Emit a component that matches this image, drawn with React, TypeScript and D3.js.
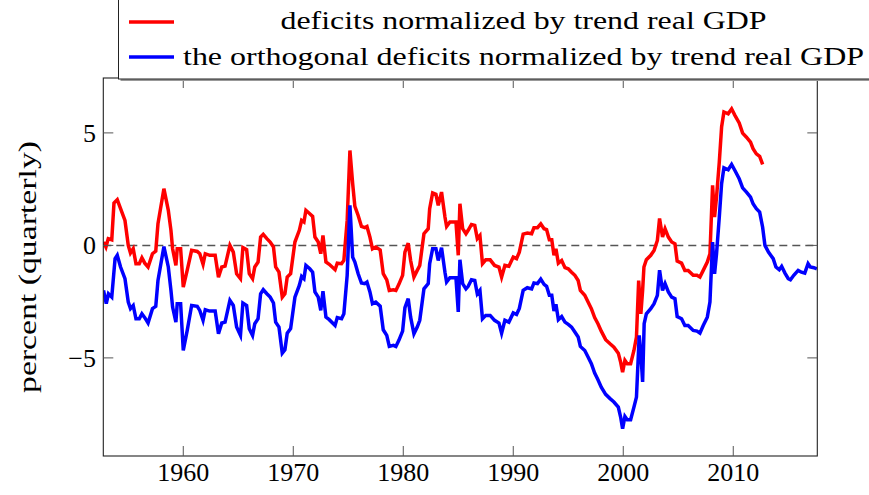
import { useEffect, useRef } from "react";
import * as d3 from "d3";

// [year, percent]
const deficits: [number, number][] = [
  [1952.75, 0.15], [1952.97, -0.07], [1953.18, 0.3], [1953.5, 0.25], [1953.7, 1.88],
  [1954.0, 2.03], [1954.3, 1.63], [1954.7, 1.11], [1955.0, 0.0], [1955.2, -0.34],
  [1955.45, -0.15], [1955.7, -0.81], [1956.0, -0.81], [1956.24, -0.55], [1956.5, -0.79],
  [1956.8, -0.96], [1957.2, -0.37], [1957.5, -0.25], [1957.7, 0.96], [1958.24, 2.52],
  [1958.64, 1.56], [1958.88, 0.67], [1959.03, -0.15], [1959.33, -0.89], [1959.45, -0.15],
  [1959.76, -0.15], [1960.0, -1.85], [1960.36, -1.1], [1960.76, -0.22], [1961.27, -0.27],
  [1961.5, -0.37], [1961.8, -0.84], [1962.0, -0.37], [1962.4, -0.44], [1962.9, -0.44],
  [1963.2, -1.41], [1963.5, -0.96], [1963.8, -0.92], [1964.24, 0.0], [1964.55, -0.3],
  [1964.85, -1.26], [1965.2, -1.48], [1965.42, -0.1], [1965.76, -0.19], [1966.0, -1.26],
  [1966.3, -1.48], [1966.5, -0.96], [1966.8, -0.74], [1967.03, 0.37], [1967.27, 0.49],
  [1967.6, 0.3], [1967.9, 0.15], [1968.2, -0.07], [1968.4, -0.96], [1968.7, -1.19],
  [1969.0, -2.3], [1969.24, -2.15], [1969.45, -1.41], [1969.76, -1.26], [1970.15, 0.15],
  [1970.55, 0.67], [1970.76, 1.11], [1970.97, 1.04], [1971.15, 1.56], [1971.5, 1.41],
  [1971.76, 1.29], [1971.97, 0.37], [1972.27, 0.15], [1972.5, -0.37], [1972.7, 0.44],
  [1972.97, -0.74], [1973.27, -0.84], [1973.8, -1.08], [1974.0, -0.79], [1974.39, -0.81],
  [1974.6, -0.67], [1974.9, 1.11], [1975.15, 4.22], [1975.4, 2.74], [1975.6, 1.73],
  [1975.9, 1.33], [1976.2, 0.84], [1976.5, 0.79], [1976.7, 0.84], [1976.97, 0.37],
  [1977.2, -0.15], [1977.5, -0.07], [1977.9, -0.2], [1978.18, -1.26], [1978.5, -1.53],
  [1978.73, -2.0], [1979.1, -1.97], [1979.33, -2.0], [1979.6, -1.73], [1979.94, -1.33],
  [1980.15, -0.3], [1980.45, 0.1], [1980.67, -0.67], [1980.97, -1.41], [1981.27, -1.11],
  [1981.5, -0.89], [1981.88, 0.52], [1982.27, 0.74], [1982.4, 1.63], [1982.67, 2.33],
  [1982.97, 2.27], [1983.18, 1.78], [1983.48, 2.37], [1983.79, 1.26], [1983.94, 0.84],
  [1984.24, 1.04], [1984.79, 1.04], [1985.0, -0.44], [1985.15, 1.85], [1985.4, 0.74],
  [1985.7, 0.52], [1985.9, 0.67], [1986.2, 0.93], [1986.5, 0.89], [1986.73, 0.3],
  [1986.97, 0.44], [1987.2, -0.81], [1987.5, -0.64], [1987.9, -0.64], [1988.3, -0.89],
  [1988.7, -0.96], [1988.94, -1.41], [1989.24, -0.89], [1989.6, -0.93], [1990.0, -0.52],
  [1990.3, -0.59], [1990.55, -0.3], [1990.9, 0.5], [1991.28, 0.55], [1991.67, 0.52],
  [1991.88, 0.79], [1992.2, 0.79], [1992.5, 0.96], [1992.8, 0.74], [1993.03, 0.7],
  [1993.28, 0.25], [1993.5, 0.25], [1993.7, -0.44], [1993.88, -0.15], [1994.1, -0.79],
  [1994.4, -0.67], [1994.7, -0.99], [1995.0, -1.04], [1995.3, -1.19], [1995.6, -1.33],
  [1995.9, -1.56], [1996.1, -2.0], [1996.5, -2.22], [1996.8, -2.52], [1997.1, -2.81],
  [1997.4, -3.21], [1997.7, -3.48], [1998.0, -3.81], [1998.4, -4.19], [1998.8, -4.37],
  [1999.15, -4.52], [1999.55, -4.79], [1999.76, -5.19], [1999.94, -5.63], [2000.15, -5.11],
  [2000.36, -5.26], [2000.67, -5.26], [2000.97, -4.67], [2001.2, -4.07], [2001.4, -1.56],
  [2001.6, -3.04], [2001.76, -2.0], [2001.88, -0.96], [2002.1, -0.64], [2002.5, -0.44],
  [2002.8, -0.22], [2003.1, 0.22], [2003.3, 1.2], [2003.57, 0.37], [2003.8, 0.74],
  [2004.1, 0.37], [2004.4, 0.15], [2004.7, 0.07], [2004.9, -0.7], [2005.3, -0.79],
  [2005.6, -1.11], [2005.9, -1.11], [2006.36, -1.33], [2006.7, -1.33], [2006.97, -1.41],
  [2007.27, -1.11], [2007.64, -0.74], [2007.88, -0.37], [2008.12, 2.67], [2008.3, 1.26],
  [2008.48, 2.15], [2008.73, 3.7], [2008.94, 5.26], [2009.15, 5.93], [2009.54, 5.85],
  [2009.85, 6.07], [2010.15, 5.78], [2010.54, 5.44], [2010.85, 4.99], [2011.2, 4.81],
  [2011.57, 4.59], [2011.8, 4.3], [2012.1, 4.07], [2012.4, 3.96], [2012.67, 3.6],
];

const orthogonal: [number, number][] = [
  [1952.75, -2.0], [1953.0, -2.59], [1953.2, -2.15], [1953.5, -2.3], [1953.8, -0.59],
  [1954.0, -0.44], [1954.3, -0.96], [1954.7, -1.48], [1955.0, -2.52], [1955.2, -2.81],
  [1955.45, -2.67], [1955.7, -3.26], [1956.0, -3.26], [1956.24, -3.04], [1956.5, -3.21],
  [1956.8, -3.45], [1957.2, -2.81], [1957.5, -2.71], [1957.7, -1.56], [1958.24, -0.05],
  [1958.64, -0.96], [1958.88, -2.0], [1959.03, -2.74], [1959.33, -3.41], [1959.45, -2.59],
  [1959.76, -2.59], [1960.0, -4.67], [1960.36, -3.78], [1960.76, -2.67], [1961.27, -2.71],
  [1961.5, -2.89], [1961.8, -3.33], [1962.0, -2.86], [1962.4, -2.92], [1962.9, -2.92],
  [1963.2, -3.93], [1963.5, -3.45], [1963.8, -3.41], [1964.24, -2.44], [1964.55, -2.67],
  [1964.85, -3.63], [1965.2, -4.0], [1965.42, -2.56], [1965.76, -2.67], [1966.0, -3.7],
  [1966.3, -4.0], [1966.5, -3.48], [1966.8, -3.26], [1967.03, -2.15], [1967.27, -1.97],
  [1967.6, -2.15], [1967.9, -2.3], [1968.2, -2.56], [1968.4, -3.41], [1968.7, -3.63],
  [1969.0, -4.79], [1969.24, -4.64], [1969.45, -3.9], [1969.76, -3.7], [1970.15, -2.3],
  [1970.55, -1.78], [1970.76, -1.38], [1970.97, -1.48], [1971.15, -0.89], [1971.5, -1.04],
  [1971.76, -1.19], [1971.97, -2.07], [1972.27, -2.3], [1972.5, -2.89], [1972.7, -2.03],
  [1972.97, -3.19], [1973.27, -3.3], [1973.8, -3.56], [1974.0, -3.21], [1974.39, -3.26],
  [1974.6, -3.04], [1974.9, -1.33], [1975.15, 1.78], [1975.4, -0.52], [1975.6, -0.74],
  [1975.9, -1.26], [1976.2, -1.67], [1976.5, -1.7], [1976.7, -1.63], [1976.97, -2.07],
  [1977.2, -2.59], [1977.5, -2.52], [1977.9, -2.7], [1978.18, -3.75], [1978.5, -4.0],
  [1978.73, -4.49], [1979.1, -4.44], [1979.33, -4.49], [1979.6, -4.22], [1979.94, -3.81],
  [1980.15, -2.77], [1980.45, -2.37], [1980.67, -3.19], [1980.97, -3.93], [1981.27, -3.63],
  [1981.5, -3.33], [1981.88, -1.93], [1982.27, -1.7], [1982.4, -0.81], [1982.67, -0.15],
  [1982.97, -0.15], [1983.18, -0.67], [1983.48, -0.1], [1983.79, -1.19], [1983.94, -1.63],
  [1984.24, -1.44], [1984.79, -1.44], [1985.0, -2.96], [1985.15, -0.64], [1985.4, -1.7],
  [1985.7, -1.93], [1985.9, -1.82], [1986.2, -1.53], [1986.5, -1.56], [1986.73, -2.15],
  [1986.97, -2.0], [1987.2, -3.26], [1987.5, -3.11], [1987.9, -3.11], [1988.3, -3.33],
  [1988.7, -3.45], [1988.94, -3.9], [1989.24, -3.33], [1989.6, -3.41], [1990.0, -3.0],
  [1990.3, -3.07], [1990.55, -2.8], [1990.9, -2.0], [1991.28, -1.88], [1991.67, -1.93],
  [1991.88, -1.67], [1992.2, -1.7], [1992.5, -1.5], [1992.8, -1.73], [1993.03, -1.82],
  [1993.28, -2.22], [1993.5, -2.22], [1993.7, -2.92], [1993.88, -2.62], [1994.1, -3.3],
  [1994.4, -3.16], [1994.7, -3.41], [1995.0, -3.51], [1995.3, -3.63], [1995.6, -3.85],
  [1995.9, -4.07], [1996.1, -4.49], [1996.5, -4.67], [1996.8, -4.96], [1997.1, -5.26],
  [1997.4, -5.67], [1997.7, -5.97], [1998.0, -6.3], [1998.4, -6.62], [1998.8, -6.81],
  [1999.15, -6.96], [1999.55, -7.19], [1999.76, -7.63], [1999.94, -8.15], [2000.15, -7.6],
  [2000.36, -7.75], [2000.67, -7.75], [2000.97, -7.19], [2001.2, -6.74], [2001.45, -4.0],
  [2001.6, -4.81], [2001.76, -6.07], [2001.9, -3.48], [2002.1, -3.04], [2002.5, -2.81],
  [2002.8, -2.59], [2003.1, -2.22], [2003.3, -1.1], [2003.57, -2.0], [2003.8, -1.7],
  [2004.1, -2.07], [2004.4, -2.3], [2004.7, -2.37], [2004.9, -3.16], [2005.3, -3.26],
  [2005.6, -3.56], [2005.9, -3.56], [2006.36, -3.78], [2006.7, -3.81], [2006.97, -3.9],
  [2007.27, -3.56], [2007.64, -3.19], [2007.88, -2.52], [2008.12, 0.15], [2008.3, -1.26],
  [2008.48, -0.37], [2008.73, 1.26], [2008.94, 2.74], [2009.15, 3.45], [2009.54, 3.36],
  [2009.85, 3.6], [2010.15, 3.33], [2010.54, 2.96], [2010.85, 2.56], [2011.2, 2.37],
  [2011.57, 2.15], [2011.8, 1.85], [2012.1, 1.63], [2012.4, 1.48], [2012.67, 0.81],
  [2012.88, 0.0], [2013.2, -0.3], [2013.63, -0.59], [2013.88, -0.96], [2014.18, -1.08],
  [2014.4, -0.93], [2014.7, -1.23], [2015.0, -1.48], [2015.2, -1.53], [2015.5, -1.33],
  [2015.9, -1.11], [2016.2, -1.19], [2016.5, -1.23], [2016.8, -0.81], [2017.0, -0.96],
  [2017.33, -0.99], [2017.6, -1.04],
];

const xTicks = [1960, 1970, 1980, 1990, 2000, 2010];
const yTicks = [-5, 0, 5];
const legendLabels = [
  "deficits normalized by trend real GDP",
  "the orthogonal deficits normalized by trend real GDP",
];
const yLabel = "percent (quarterly)";

export default function App() {
  const svgRef = useRef<SVGSVGElement | null>(null);

  useEffect(() => {
    const width = 869;
    const height = 495;
    const left = 103.3;
    const right = 817.3;
    const top = 78;
    const bottom = 456;

    const svg = d3.select(svgRef.current);
    svg.selectAll("*").remove();
    svg
      .attr("width", width)
      .attr("height", height)
      .style("font-family", '"Liberation Serif", "Times New Roman", "DejaVu Serif", serif');

    const x = d3.scaleLinear().domain([1952.73, 2017.64]).range([left, right]);
    const y = d3.scaleLinear().domain([-9.36, 7.44]).range([bottom, top]);

    svg
      .append("defs")
      .append("clipPath")
      .attr("id", "plot-clip")
      .append("rect")
      .attr("x", left)
      .attr("y", top)
      .attr("width", right - left)
      .attr("height", bottom - top);

    // zero line
    svg
      .append("line")
      .attr("x1", left)
      .attr("x2", right)
      .attr("y1", y(0))
      .attr("y2", y(0))
      .attr("stroke", "#555")
      .attr("stroke-width", 1.5)
      .attr("stroke-dasharray", "8,5");

    const line = d3
      .line<[number, number]>()
      .x((d) => x(d[0]))
      .y((d) => y(d[1]));

    const series = [
      { data: deficits, color: "#ff0000" },
      { data: orthogonal, color: "#0000ff" },
    ];

    series.forEach((s) => {
      svg
        .append("path")
        .datum(s.data)
        .attr("clip-path", "url(#plot-clip)")
        .attr("fill", "none")
        .attr("stroke", s.color)
        .attr("stroke-width", 3.5)
        .attr("d", line);
    });

    // frame
    svg
      .append("rect")
      .attr("x", left)
      .attr("y", top)
      .attr("width", right - left)
      .attr("height", bottom - top)
      .attr("fill", "none")
      .attr("stroke", "#222")
      .attr("stroke-width", 1.1);

    const tickLen = 10;
    xTicks.forEach((t) => {
      const px = x(t);
      svg.append("line").attr("x1", px).attr("x2", px).attr("y1", bottom).attr("y2", bottom - tickLen).attr("stroke", "#555");
      svg.append("line").attr("x1", px).attr("x2", px).attr("y1", top).attr("y2", top + tickLen).attr("stroke", "#555");
      svg
        .append("text")
        .attr("x", px)
        .attr("y", 481)
        .attr("text-anchor", "middle")
        .style("font-size", "26px")
        .text(String(t));
    });

    yTicks.forEach((t) => {
      const py = y(t);
      svg.append("line").attr("x1", left).attr("x2", left + tickLen).attr("y1", py).attr("y2", py).attr("stroke", "#555");
      svg.append("line").attr("x1", right).attr("x2", right - tickLen).attr("y1", py).attr("y2", py).attr("stroke", "#555");
      svg
        .append("text")
        .attr("x", 96)
        .attr("y", py + 9)
        .attr("text-anchor", "end")
        .style("font-size", "26px")
        .text(t < 0 ? `\u2212${Math.abs(t)}` : String(t));
    });

    svg
      .append("text")
      .attr("transform", `translate(36,${(top + bottom) / 2}) rotate(-90)`)
      .attr("text-anchor", "middle")
      .style("font-size", "25px")
      .attr("textLength", 252)
      .attr("lengthAdjust", "spacingAndGlyphs")
      .text(yLabel);

    // legend
    const legend = svg.append("g");
    legend
      .append("rect")
      .attr("x", 120.5)
      .attr("y", -5)
      .attr("width", 800)
      .attr("height", 86)
      .attr("fill", "#999");
    legend
      .append("rect")
      .attr("x", 118.5)
      .attr("y", -5)
      .attr("width", 800)
      .attr("height", 84)
      .attr("fill", "#fff")
      .attr("stroke", "#222")
      .attr("stroke-width", 1);

    const rows = [
      { y: 22, base: 29, len: 486 },
      { y: 57, base: 64.5, len: 681 },
    ];
    rows.forEach((r, i) => {
      legend
        .append("line")
        .attr("x1", 129)
        .attr("x2", 174)
        .attr("y1", r.y)
        .attr("y2", r.y)
        .attr("stroke", series[i].color)
        .attr("stroke-width", 3.5);
      legend
        .append("text")
        .attr("x", 523.5)
        .attr("y", r.base)
        .attr("text-anchor", "middle")
        .style("font-size", "25px")
        .attr("textLength", r.len)
        .attr("lengthAdjust", "spacingAndGlyphs")
        .text(legendLabels[i]);
    });
  }, []);

  return (
    <svg
      ref={svgRef}
      style={{ position: "absolute", left: 0, top: 0, background: "#fff" }}
    ></svg>
  );
}
